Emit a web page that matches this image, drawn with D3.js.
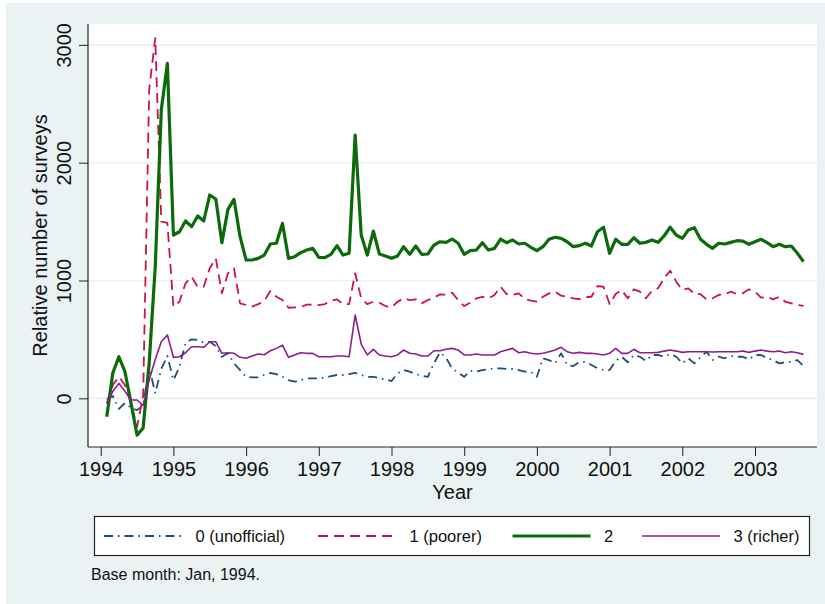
<!DOCTYPE html>
<html><head><meta charset="utf-8">
<script src="https://cdn.jsdelivr.net/npm/d3@7"></script>
<style>body{margin:0;background:#fff}svg{display:block}text{font-family:"Liberation Sans",Arial,sans-serif}</style>
</head><body><svg id="c" width="825" height="604"></svg>
<script>
// ---- data (monthly, Feb 1994 .. Sep 2003) ----
const startYear = 1994, startMonth = 1; // 0 = Jan -> first observation Feb 1994
const seriesNames = ["0 (unofficial)", "1 (poorer)", "2", "3 (richer)"];
const unofficial = [
  -10, 20, -90, -40, -80, -100, -60, 268, 42, 250, 360,
  155, 268, 472, 501, 495, 472, 480, 444, 353, 382, 297, 240,
  183, 178, 178, 200, 215, 205, 183, 155, 141, 155, 170, 170,
  170, 175, 189, 198, 198, 206, 217, 198, 183, 183, 170, 161,
  147, 212, 240, 226, 206, 192, 183, 297, 390, 345, 255, 217,
  183, 234, 226, 240, 246, 255, 255, 249, 249, 240, 226, 226,
  183, 340, 325, 297, 382, 283, 274, 306, 311, 283, 255, 240,
  240, 319, 353, 306, 368, 353, 317, 368, 368, 353, 376, 353,
  297, 340, 297, 348, 396, 325, 353, 340, 359, 353, 353, 331,
  368, 368, 340, 325, 297, 306, 311, 325, 274];
const poorer = [
  -42, 113, 183, 113, -42, -241, 20, 2620, 3058, 1500, 1490,
  778, 820, 976, 1032, 947, 947, 1104, 1188, 891, 1061, 1104, 806,
  792, 778, 800, 826, 911, 862, 834, 769, 772, 775, 795, 795,
  792, 800, 829, 840, 800, 800, 1061, 849, 800, 820, 812, 783,
  772, 820, 849, 834, 840, 806, 834, 854, 883, 880, 897, 834,
  783, 812, 849, 862, 849, 877, 947, 885, 877, 891, 843, 829,
  820, 862, 891, 905, 871, 862, 849, 843, 857, 862, 953, 947,
  800, 885, 919, 849, 925, 905, 849, 913, 934, 1019, 1083, 990,
  919, 934, 885, 885, 840, 849, 877, 883, 905, 885, 891, 925,
  905, 854, 862, 840, 862, 820, 806, 792, 785];
const middle = [
  -156, 217, 353, 226, -40, -312, -252, 300, 1120, 2447, 2843,
  1386, 1414, 1505, 1457, 1548, 1505, 1726, 1692, 1321, 1604, 1689, 1372,
  1174, 1174, 1188, 1216, 1310, 1316, 1485, 1188, 1202, 1236, 1259, 1273,
  1197, 1194, 1222, 1296, 1216, 1231, 2235, 1386, 1216, 1420, 1225, 1208,
  1188, 1208, 1287, 1222, 1293, 1222, 1225, 1301, 1329, 1324, 1352, 1316,
  1222, 1253, 1259, 1321, 1259, 1273, 1352, 1321, 1344, 1310, 1316, 1282,
  1253, 1287, 1350, 1367, 1358, 1329, 1287, 1296, 1316, 1293, 1414, 1452,
  1231, 1350, 1307, 1307, 1363, 1316, 1324, 1344, 1324, 1378, 1452, 1386,
  1358, 1429, 1448, 1350, 1307, 1273, 1316, 1310, 1324, 1338, 1335, 1307,
  1329, 1350, 1321, 1287, 1307, 1287, 1293, 1231, 1160];
const richer = [
  -42, 60, 127, 60, -14, -14, -60, 155, 330, 480, 537,
  348, 353, 387, 438, 438, 433, 480, 480, 382, 387, 382, 348,
  340, 359, 376, 370, 404, 424, 452, 348, 368, 387, 382, 382,
  353, 353, 353, 359, 359, 353, 707, 461, 368, 416, 368, 359,
  353, 368, 410, 382, 376, 359, 359, 404, 404, 416, 424, 410,
  368, 368, 376, 368, 368, 368, 396, 410, 424, 387, 396, 382,
  376, 382, 396, 410, 433, 396, 382, 390, 382, 382, 376, 368,
  382, 424, 382, 382, 416, 387, 387, 387, 390, 401, 410, 401,
  390, 396, 396, 396, 396, 393, 396, 396, 396, 396, 401, 390,
  401, 410, 401, 396, 401, 387, 396, 387, 373];
const xTicks = [1994, 1995, 1996, 1997, 1998, 1999, 2000, 2001, 2002, 2003];
const yTicks = [0, 1000, 2000, 3000];
const xTitle = "Year";
const yTitle = "Relative number of surveys";
const note = "Base month: Jan, 1994.";

// ---- styles ----
const styles = [
  {color: "#1F4E79", width: 1.8, dash: "9,5,1.5,5"},
  {color: "#CC1443", width: 1.8, dash: "10,6"},
  {color: "#0B6B0B", width: 3.2, dash: null},
  {color: "#8E1C8E", width: 1.6, dash: null}
];
const seriesValues = [unofficial, poorer, middle, richer];

const svg = d3.select("#c");
const bg = "#EAF2F3";
svg.append("rect").attr("x", 6).attr("y", 3).attr("width", 819).attr("height", 601).attr("fill", bg);

const L = 88, R = 817, T = 24, B = 447;
const x = d3.scaleLinear().domain([1993.825, 2003.853]).range([L, R]);
const y = d3.scaleLinear().domain([-413, 3177]).range([B, T]);

svg.append("rect").attr("x", L).attr("y", T).attr("width", R - L).attr("height", B - T).attr("fill", "#fff");

// grid
svg.append("g").selectAll("line").data(yTicks).join("line")
  .attr("x1", L).attr("x2", R).attr("y1", d => y(d)).attr("y2", d => y(d))
  .attr("stroke", bg).attr("stroke-width", 1.6);

// lines
const t = i => startYear + (startMonth + i) / 12;
const line = d3.line().x((d, i) => x(t(i))).y(d => y(d));
const plot = svg.append("g");
seriesValues.forEach((vals, k) => {
  const s = styles[k];
  plot.append("path").datum(vals).attr("d", line)
    .attr("fill", "none").attr("stroke", s.color).attr("stroke-width", s.width)
    .attr("stroke-linejoin", "round")
    .attr("stroke-dasharray", s.dash);
});

// axes
const axisColor = "#222";
const yAxis = svg.append("g").attr("transform", `translate(${L},0)`)
  .call(d3.axisLeft(y).tickValues(yTicks).tickSize(9).tickPadding(0).tickFormat(d3.format("d")));
yAxis.select(".domain").attr("d", `M0,${T}V${B}`).attr("stroke", axisColor).attr("stroke-width", 1.2);
yAxis.selectAll(".tick line").attr("stroke", axisColor).attr("stroke-width", 1);
yAxis.selectAll(".tick text").attr("font-size", 20).attr("fill", "#111")
  .attr("x", null).attr("dy", null).attr("text-anchor", "middle")
  .attr("transform", "translate(-17.5,0) rotate(-90)");

const xAxis = svg.append("g").attr("transform", `translate(0,${B})`)
  .call(d3.axisBottom(x).tickValues(xTicks).tickSize(9).tickPadding(0).tickFormat(d3.format("d")));
xAxis.select(".domain").attr("d", `M${L},0H${R}`).attr("stroke", axisColor).attr("stroke-width", 1.2);
xAxis.selectAll(".tick line").attr("stroke", axisColor).attr("stroke-width", 1);
xAxis.selectAll(".tick text").attr("font-size", 20).attr("fill", "#111").attr("y", 29).attr("dy", null);

svg.append("text").attr("x", (L + R) / 2).attr("y", 499).attr("text-anchor", "middle")
  .attr("font-size", 20).attr("fill", "#111").text(xTitle);
svg.append("text").attr("transform", `translate(46.5,${(T + B) / 2}) rotate(-90)`)
  .attr("text-anchor", "middle").attr("font-size", 20).attr("fill", "#111").text(yTitle);

// legend
svg.append("rect").attr("x", 94.5).attr("y", 516.5).attr("width", 715).attr("height", 39)
  .attr("fill", "#fff").attr("stroke", "#222").attr("stroke-width", 1.2);
const legX = [104, 318, 512.5, 642];
const legY = 536;
const lg = svg.append("g");
seriesNames.forEach((n, k) => {
  const s = styles[k];
  lg.append("line").attr("x1", legX[k]).attr("x2", legX[k] + 78).attr("y1", legY).attr("y2", legY)
    .attr("stroke", s.color).attr("stroke-width", s.width).attr("stroke-dasharray", s.dash);
  lg.append("text").attr("x", legX[k] + 91.5).attr("y", legY + 6).attr("font-size", 16.5)
    .attr("fill", "#111").text(n);
});

svg.append("text").attr("x", 91).attr("y", 580).attr("font-size", 16).attr("fill", "#111").text(note);
</script></body></html>
